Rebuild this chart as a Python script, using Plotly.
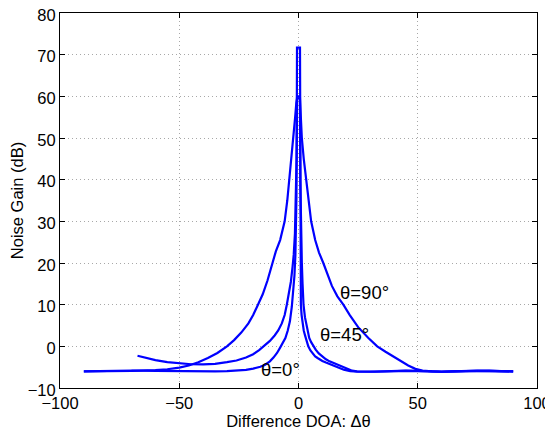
import plotly.graph_objects as go

# theta = 0 deg (narrowest response)
x_t0 = [-90, -80, -70, -60, -50, -40, -35, -30, -26, -22, -19, -16, -14, -12, -10.5, -9, -7.7, -6.5, -5.5, -4.5,
        -3.6, -2.8, -2.2, -1.7, -1.3, -1.0, -0.85, -0.75, -0.7, -0.63,
        0.63, 0.68, 0.75, 0.85, 1.0, 1.3, 1.7, 2.2, 2.8, 3.4, 4.1, 5, 6, 7, 8, 9, 10, 11.5, 13.3, 15, 17, 19,
        21.7, 25, 30, 35, 40, 45, 50, 55, 60, 70, 80, 90]
y_t0 = [-6.0, -5.9, -5.8, -5.9, -6.0, -6.0, -6.0, -5.95, -5.85, -5.65, -5.35, -4.9, -4.4, -3.6, -2.7, -1.6, -0.3, 0.9, 2.0, 3.8,
        6.0, 9.5, 13, 17, 22, 28, 36, 48, 60, 71.7,
        71.7, 55, 35, 20, 10, 7.5, 5.5, 3.8, 2.5, 1.2, 0.0, -1.0, -1.8, -2.4, -2.8, -3.2, -3.5, -3.9, -4.3, -4.7, -5.2, -5.6,
        -5.95, -6.1, -6.1, -6.0, -5.95, -5.9, -5.95, -6.0, -6.05, -5.95, -5.9, -6.0]

# theta = 45 deg
x_t45 = [-67.5, -64, -60, -55, -50, -45, -40, -35, -30, -26, -22, -19, -16.5, -14.5, -12, -10, -8.5, -7, -5.8, -4.9,
         -4, -3.2, -2.5, -2.0, -1.5, -1.1, -0.8, -0.6,
         0.6, 0.75, 1.0, 1.4, 1.7, 2.1, 2.7, 3.3, 4.5, 5.3, 6.2, 7.2, 8.5, 10, 11.5, 13, 15, 16.7, 18.5, 20.5, 22.5,
         24.5, 28, 32, 36, 40, 45, 50, 55, 60, 65, 70, 75, 80, 85, 90]
y_t45 = [-2.25, -2.8, -3.3, -3.8, -4.1, -4.3, -4.35, -4.2, -3.8, -3.4, -2.7, -1.9, -0.9, 0.0, 1.3, 2.6, 3.8, 5.5, 7.5, 10,
         12.5, 15.5, 19, 22, 27, 35, 45, 60,
         60, 40, 30, 20, 15, 10, 7, 5, 2, 1.0, 0.0, -0.8, -1.7, -2.5, -3.1, -3.6, -4.1, -4.5, -5.0, -5.5, -5.85,
         -6.0, -6.1, -6.05, -6.0, -5.9, -5.85, -5.9, -6.0, -6.1, -6.0, -5.9, -5.8, -5.85, -5.95, -6.0]

# theta = 90 deg (widest response)
x_t90 = [-90, -80, -70, -60, -55, -50, -46, -42, -38, -34, -30, -27, -24, -21, -19, -17, -15, -13, -11, -9.5,
         -7.7, -5.8, -4.7, -3.8, -2.9, -2.1, -1.4, -0.9, -0.6,
         0.6, 1.0, 1.4, 2.2, 3.2, 4.2, 5.3, 7, 8.6, 10.4, 12.2, 14, 16.3, 18.8, 21.5, 25, 29.3, 33, 36.5, 40, 43,
         46, 49, 52, 56, 60, 65, 70, 75, 80, 85, 90]
y_t90 = [-6.0, -6.0, -5.9, -5.7, -5.5, -5.1, -4.6, -3.8, -2.8, -1.6, 0.0, 1.5, 3.3, 5.5, 7.5, 10, 12.5, 15.8, 20, 22.8,
         25.5, 30, 35, 40, 45, 50, 55, 58.5, 59.5,
         59.5, 55, 50, 45, 40, 35, 30, 25.5, 22.5, 20, 17, 14.5, 12, 10, 7.5, 4.6, 2.0, 0.0, -1.3, -2.5, -3.6,
         -4.6, -5.4, -5.8, -6.0, -6.1, -6.0, -5.9, -5.85, -5.9, -6.0, -6.0]

labels = ["θ=0°", "θ=45°", "θ=90°"]
label_x = [-7.5, 19.4, 27.7]
label_y = [-5.6, 2.8, 13.0]

x_ticks = [-100, -50, 0, 50, 100]
y_ticks = [-10, 0, 10, 20, 30, 40, 50, 60, 70, 80]

fig = go.Figure()
for xs, ys in [(x_t0, y_t0), (x_t45, y_t45), (x_t90, y_t90)]:
    fig.add_trace(go.Scatter(x=xs, y=ys, mode="lines",
                             line=dict(color="#0000ff", width=2.2),
                             showlegend=False, cliponaxis=False))

for t, xx, yy in zip(labels, label_x, label_y):
    fig.add_annotation(x=xx, y=yy, text=t, showarrow=False,
                       font=dict(family="Liberation Sans, Arial", size=18.5, color="black"))

tick_font = dict(family="Liberation Sans, Arial", size=16.5, color="black")

axis_common = dict(showgrid=True, gridcolor="#a8a8a8", griddash="1px,3px", gridwidth=1,
                   zeroline=False, showline=True, linecolor="black", linewidth=1, mirror="ticks",
                   ticks="inside", ticklen=5, tickcolor="black", tickfont=tick_font,
                   ticklabeloverflow="allow", automargin=False)

# page body has an 8px margin: plot area should land at x 60..537, y 13..388 in the window
fig.update_layout(
    width=553, height=431,
    margin=dict(l=52, r=24, t=5, b=51),
    paper_bgcolor="white", plot_bgcolor="white",
    font=tick_font,
    xaxis=dict(range=[-100, 100], tickvals=x_ticks,
               ticktext=[str(v).replace("-", "−") for v in x_ticks],
               title=dict(text="Difference DOA: Δθ", font=tick_font, standoff=0),
               **axis_common),
    yaxis=dict(range=[-10, 80], tickvals=y_ticks,
               ticktext=[str(v).replace("-", "−") for v in y_ticks],
               ticklabelshift=2,
               title=dict(text="Noise Gain (dB)", font=tick_font, standoff=0),
               **axis_common),
)

fig.write_html("out.html")
